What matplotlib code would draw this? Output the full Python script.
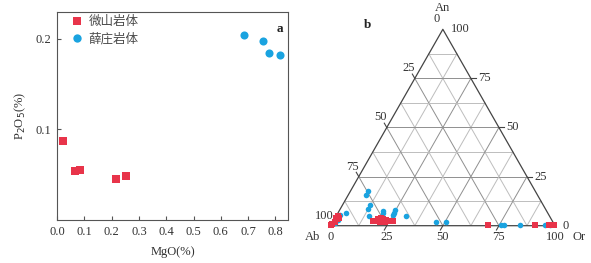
import numpy as np
import matplotlib
matplotlib.use("Agg")
import matplotlib.pyplot as plt
from matplotlib.lines import Line2D

# ---------------- data ----------------
# panel a: MgO vs P2O5
wei_mgo = [0.023, 0.065, 0.084, 0.217, 0.253]
wei_p2o5 = [0.0868, 0.0538, 0.0557, 0.0454, 0.0484]
xue_mgo = [0.684, 0.755, 0.775, 0.818]
xue_p2o5 = [0.2044, 0.1975, 0.1840, 0.1817]
legend_labels = ["微山岩体", "薛庄岩体"]
x_ticks = [0.0, 0.1, 0.2, 0.3, 0.4, 0.5, 0.6, 0.7, 0.8]
y_ticks = [0.1, 0.2]

# panel b: feldspar An-Ab-Or (percent); Ab = 100 - An - Or
wei_an = [4.9, 3.2, 2.0, 0.8, 0.2, 4.0, 3.8,
          2.2, 2.5, 2.9, 3.7, 3.4, 2.9, 2.5, 2.5, 2.0, 3.5, 2.0,
          0.3, 0.3, 0.3, 0.3, 0.3]
wei_or = [1.0, 1.4, 0.8, 0.3, 0.1, 1.5, 0.5,
          17.9, 19.0, 20.0, 20.6, 21.8, 23.2, 24.0, 26.7, 21.0, 19.5, 23.0,
          69.8, 91.0, 97.0, 98.2, 99.3]
xue_an = [17.8, 15.6, 10.5, 8.3, 4.9, 6.6, 5.4, 2.9, 1.5,
          7.6, 6.3, 8.0, 6.3, 5.4, 4.9, 2.0, 1.7,
          0.3, 0.3, 0.3, 0.3, 0.3]
xue_or = [7.6, 8.0, 12.1, 12.6, 14.8, 3.5, 1.5, 2.0, 1.2,
          19.5, 20.2, 24.7, 25.0, 25.0, 31.0, 46.0, 50.6,
          75.8, 76.9, 84.4, 95.5, 97.5]
tern_ticks = [0, 25, 50, 75, 100]

RED = "#E8344A"
BLUE = "#1AA3E0"
TXT = "#333333"
SERIF = ["Liberation Serif", "DejaVu Serif"]
CJK = ["Noto Sans CJK SC", "DejaVu Sans"]
FS = 9

plt.rcParams["font.family"] = SERIF

fig = plt.figure(figsize=(5.91, 2.63), dpi=100)
W, H = 591, 263

def px_axes(l, t, r, b):
    return fig.add_axes([l / W, 1 - b / H, (r - l) / W, (b - t) / H])

# ---------------- panel a ----------------
ax = px_axes(56.7, 11.7, 288.3, 220.0)
ax.scatter(wei_mgo, wei_p2o5, marker="s", s=30, color=RED, linewidths=0, zorder=3)
ax.scatter(xue_mgo, xue_p2o5, marker="o", s=34, color=BLUE, linewidths=0, zorder=3)
ax.set_xlim(-0.001, 0.847)
ax.set_ylim(0.0, 0.23)
ax.set_xticks(x_ticks)
ax.set_xticklabels([f"{v:.1f}" for v in x_ticks])
ax.set_yticks(y_ticks)
ax.set_yticklabels([f"{v:.1f}" for v in y_ticks])
ax.tick_params(direction="in", length=3, width=0.8, colors="#555555",
               labelcolor=TXT, labelsize=FS, pad=4)
for s in ax.spines.values():
    s.set_color("#555555")
    s.set_linewidth(0.8)
ax.set_xlabel("MgO(%)", fontsize=FS, color=TXT, labelpad=6)
ax.set_ylabel("P$_2$O$_5$(%)", fontsize=FS, color=TXT, labelpad=5)
ax.text(0.965, 0.915, "a", transform=ax.transAxes, fontsize=9.5, fontweight="bold",
        ha="center", va="center", color="#222222")

handles = [Line2D([], [], marker="s", ls="none", color=RED, markersize=5.5, markeredgewidth=0),
           Line2D([], [], marker="o", ls="none", color=BLUE, markersize=6, markeredgewidth=0)]
leg = ax.legend(handles, legend_labels, loc="upper left", bbox_to_anchor=(0.03, 1.025),
                frameon=False, prop={"family": CJK, "size": 9}, handlelength=0.8,
                handletextpad=0.5, labelspacing=0.35, borderaxespad=0.3)
for t in leg.get_texts():
    t.set_color("#4a4a4a")

# ---------------- panel b (ternary) ----------------
tx = px_axes(330.7, 29.3, 555.0, 225.7)
tx.set_xlim(0, 1)
tx.set_ylim(0, np.sqrt(3) / 2)
tx.axis("off")
h = np.sqrt(3) / 2

def tcart(an, orr):
    an = np.asarray(an, float) / 100.0
    orr = np.asarray(orr, float) / 100.0
    return orr + an / 2, an * h

# grid lines
for v in np.arange(12.5, 100, 12.5):
    major = (v % 25 == 0)
    col = "#8f8f8f" if major else "#bdbdbd"
    lw = 0.7
    # constant An
    x0, y0 = tcart(v, 0)
    x1, y1 = tcart(v, 100 - v)
    tx.plot([x0, x1], [y0, y1], color=col, lw=lw, zorder=1)
    # constant Or
    x0, y0 = tcart(0, v)
    x1, y1 = tcart(100 - v, v)
    tx.plot([x0, x1], [y0, y1], color=col, lw=lw, zorder=1)
    # constant Ab
    x0, y0 = tcart(0, 100 - v)
    x1, y1 = tcart(100 - v, 0)
    tx.plot([x0, x1], [y0, y1], color=col, lw=lw, zorder=1)

# triangle outline
tx.plot([0, 1, 0.5, 0], [0, 0, h, 0], color="#444444", lw=0.9, zorder=2, clip_on=False)

# ticks and labels
tl = 0.022
for v in tern_ticks:
    # left edge: Ab = v  (An = 100 - v, Or = 0)
    x, y = tcart(100 - v, 0)
    if 0 < v < 100:
        tx.plot([x, x - tl * 0.5], [y, y + tl * h], color="#444444", lw=0.8, clip_on=False)
    tx.annotate(str(v), (x, y), xytext=(-4.7, 7.2), textcoords="offset points",
                ha="center", va="center", fontsize=FS, color=TXT)
    # right edge: An = v
    x, y = tcart(v, 100 - v)
    if 0 < v < 100:
        tx.plot([x, x + tl], [y, y], color="#444444", lw=0.8, clip_on=False)
    tx.annotate(str(v), (x, y), xytext=(5.5, 0), textcoords="offset points",
                ha="left", va="center", fontsize=FS, color=TXT)
    # bottom edge: Or = v
    x, y = tcart(0, v)
    if 0 < v < 100:
        tx.plot([x, x - tl * 0.5], [y, y - tl * h], color="#444444", lw=0.8, clip_on=False)
    tx.annotate(str(v), (x, y), xytext=(0, -8.3), textcoords="offset points",
                ha="center", va="center", fontsize=FS, color=TXT)

tx.annotate("An", tcart(100, 0), xytext=(0, 15.5), textcoords="offset points",
            ha="center", va="center", fontsize=FS, color=TXT)
tx.annotate("Ab", tcart(0, 0), xytext=(-13, -8.3), textcoords="offset points",
            ha="center", va="center", fontsize=FS, color=TXT)
tx.annotate("Or", tcart(0, 100), xytext=(17, -8.3), textcoords="offset points",
            ha="center", va="center", fontsize=FS, color=TXT)
fig.text(368 / W, 1 - 25 / H, "b", fontsize=9.5, fontweight="bold", ha="center",
         va="center", color="#222222")

xb, yb = tcart(xue_an, xue_or)
tx.scatter(xb, yb, marker="o", s=16, color=BLUE, linewidths=0, zorder=4, clip_on=False)
xr, yr = tcart(wei_an, wei_or)
tx.scatter(xr, yr, marker="s", s=16, color=RED, linewidths=0, zorder=5, clip_on=False)

fig.savefig("out.png", dpi=100)
